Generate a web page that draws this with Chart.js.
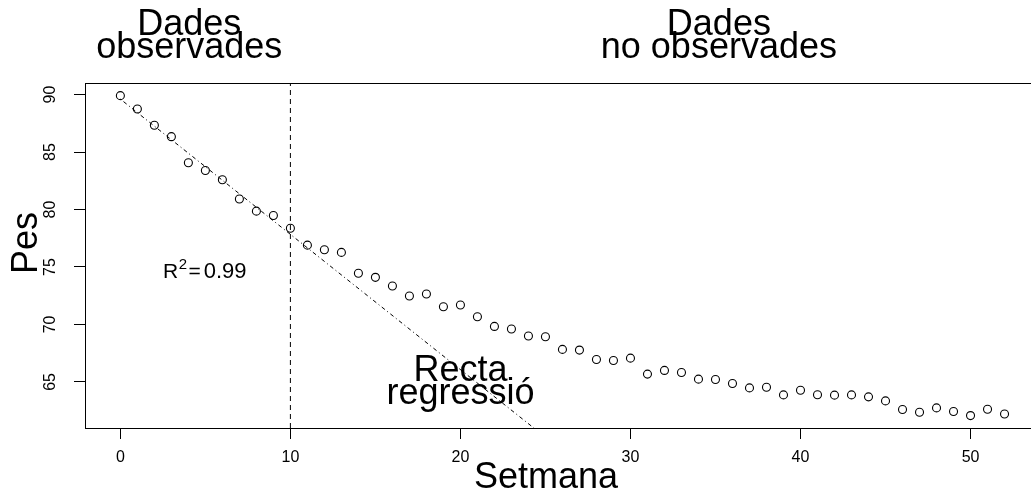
<!DOCTYPE html>
<html>
<head>
<meta charset="utf-8">
<script src="https://cdn.jsdelivr.net/npm/chart.js@4/dist/chart.umd.min.js"></script>
<style>
  html, body { margin: 0; padding: 0; background: #fff; overflow: hidden; }
  #wrap { width: 1045px; height: 492px; }
  canvas { display: block; }
</style>
</head>
<body>
<div id="wrap"><canvas id="c" width="1045" height="492"></canvas></div>
<script>
// ---- data ----
const weeks = [0,1,2,3,4,5,6,7,8,9,10,11,12,13,14,15,16,17,18,19,20,21,22,23,24,25,26,
               27,28,29,30,31,32,33,34,35,36,37,38,39,40,41,42,43,44,45,46,47,48,49,50,51,52];
const weights = [89.91, 88.75, 87.33, 86.34, 84.07, 83.40, 82.59, 80.91, 79.86, 79.48,
                 78.37, 76.90, 76.50, 76.27, 74.45, 74.10, 73.35, 72.48, 72.65, 71.54,
                 71.69, 70.67, 69.83, 69.60, 68.99, 68.93, 67.83, 67.77, 66.95, 66.87,
                 67.07, 65.68, 66.00, 65.82, 65.24, 65.21, 64.86, 64.48, 64.54, 63.87,
                 64.28, 63.88, 63.85, 63.87, 63.70, 63.35, 62.60, 62.36, 62.74, 62.42,
                 62.07, 62.62, 62.21];
const regIntercept = 89.61;
const regSlope = -1.177;
const regRange = [0, 52];
const observedLimit = 10;
const xTicks = [0, 10, 20, 30, 40, 50];
const yTicks = [65, 70, 75, 80, 85, 90];
const xLimits = [-2.08, 54.08];
const yLimits = [60.99, 91.01];
const r2Text = "0.99";

const FONT = '"Liberation Sans", Arial, Helvetica, sans-serif';

const points = weeks.map((w, i) => ({ x: w, y: weights[i] }));
const regLine = regRange.map(x => ({ x: x, y: regIntercept + regSlope * x }));
const vLine = [{ x: observedLimit, y: yLimits[0] }, { x: observedLimit, y: yLimits[1] }];

const overlay = {
  id: 'overlay',
  afterDraw(chart) {
    const ctx = chart.ctx;
    const a = chart.chartArea;
    const xs = chart.scales.x;
    ctx.save();
    // box
    ctx.strokeStyle = '#000';
    ctx.lineWidth = 1;
    ctx.setLineDash([]);
    ctx.strokeRect(Math.round(a.left) + 0.5, Math.round(a.top) + 0.5,
                   Math.round(a.right - a.left), Math.round(a.bottom - a.top));
    ctx.fillStyle = '#000';
    ctx.textAlign = 'center';
    ctx.textBaseline = 'alphabetic';
    ctx.font = '36px ' + FONT;
    // top captions
    const xl = xs.getPixelForValue(4.05);
    ctx.fillText('Dades', xl, 35);
    ctx.fillText('observades', xl, 58);
    const xr = xs.getPixelForValue(35.2);
    ctx.fillText('Dades', xr, 35);
    ctx.fillText('no observades', xr, 58);
    // regression caption
    const xg = xs.getPixelForValue(20);
    ctx.fillText('Recta', xg, 381);
    ctx.fillText('regressió', xg, 404);
    // axis titles
    ctx.fillText('Setmana', 546, 488);
    ctx.save();
    ctx.translate(37, 243);
    ctx.rotate(-Math.PI / 2);
    ctx.fillText('Pes', 0, 0);
    ctx.restore();
    // R^2 label
    ctx.textAlign = 'left';
    let x0 = 163, yb = 278;
    ctx.font = '21px ' + FONT;
    ctx.fillText('R', x0, yb);
    let w = ctx.measureText('R').width;
    ctx.font = '15px ' + FONT;
    ctx.fillText('2', x0 + w + 0.5, yb - 9);
    let w2 = ctx.measureText('2').width;
    ctx.font = '21px ' + FONT;
    let xe = x0 + w + w2 + 2;
    ctx.fillText('=', xe, yb);
    xe += ctx.measureText('=').width + 3;
    ctx.font = '22px ' + FONT;
    ctx.fillText(r2Text, xe, yb);
    ctx.restore();
  }
};

new Chart(document.getElementById('c'), {
  type: 'scatter',
  data: {
    datasets: [
      {
        data: points,
        showLine: false,
        pointStyle: 'circle',
        pointRadius: 4,
        pointHoverRadius: 4,
        borderColor: '#000',
        backgroundColor: 'rgba(0,0,0,0)',
        borderWidth: 1.1
      },
      {
        data: regLine,
        showLine: true,
        pointRadius: 0,
        borderColor: '#000',
        borderWidth: 1,
        borderDash: [1, 3, 4, 3],
        fill: false
      },
      {
        data: vLine,
        showLine: true,
        pointRadius: 0,
        borderColor: '#000',
        borderWidth: 1,
        borderDash: [5, 4],
        fill: false
      }
    ]
  },
  options: {
    responsive: false,
    animation: false,
    devicePixelRatio: 1,
    layout: { padding: { top: 83, right: 5, left: 0, bottom: 0 } },
    plugins: { legend: { display: false }, tooltip: { enabled: false }, title: { display: false } },
    scales: {
      x: {
        type: 'linear',
        min: xLimits[0], max: xLimits[1],
        afterBuildTicks: s => { s.ticks = xTicks.map(v => ({ value: v })); },
        afterFit: s => { s.height = 64; },
        grid: { drawOnChartArea: false, drawTicks: true, tickLength: 11, color: '#000', lineWidth: 1 },
        border: { display: true, color: '#000', width: 1 },
        ticks: { color: '#000', font: { family: FONT, size: 16 }, padding: 9, maxRotation: 0, autoSkip: false }
      },
      y: {
        type: 'linear',
        min: yLimits[0], max: yLimits[1],
        afterBuildTicks: s => { s.ticks = yTicks.map(v => ({ value: v })); },
        afterFit: s => { s.width = 85; },
        grid: { drawOnChartArea: false, drawTicks: true, tickLength: 11, color: '#000', lineWidth: 1 },
        border: { display: true, color: '#000', width: 1 },
        ticks: { color: '#000', font: { family: FONT, size: 16 }, padding: 15, minRotation: 90, maxRotation: 90, crossAlign: 'center', autoSkip: false }
      }
    }
  },
  plugins: [overlay]
});
</script>
</body>
</html>
